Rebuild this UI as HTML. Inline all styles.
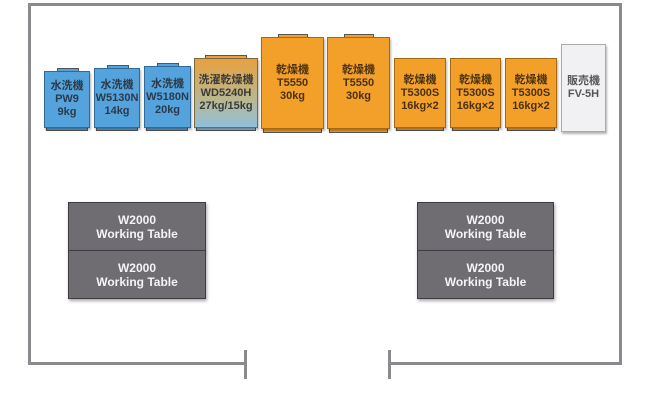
<!DOCTYPE html>
<html><head><meta charset="utf-8"><style>
body{margin:0;width:650px;height:411px;background:#fff;position:relative;overflow:hidden;font-family:"Liberation Sans","Noto Sans CJK JP",sans-serif}
.l{position:absolute;background:#8b8a8f}
.m{position:absolute;box-sizing:border-box;border:1px solid #555;display:flex;flex-direction:column;align-items:center;justify-content:center;font-weight:bold;font-size:11px;line-height:13px;color:#2b3a4a;text-align:center;box-shadow:1px 2px 2px rgba(0,0,0,.3)}
.b{background:#55a3dc;border-color:#2f6a99}
.o{background:#f3a02a;border-color:#a86a10;color:#4a3010}
.g{background:linear-gradient(#e8a040,#b8b890 60%,#8fc0dc);border-color:#7a6a40;color:#3a3a3a}
.w{background:#f1f1f3;border-color:#aaa;color:#555}
.cap{position:absolute;box-sizing:border-box;border:1px solid #555;height:5px}
.t{position:absolute;box-sizing:border-box;background:#6f6c72;border:1px solid #3e3c42;color:#f4f4f4;font-weight:bold;font-size:12px;line-height:14px;display:flex;flex-direction:column;align-items:center;justify-content:center;text-align:center;box-shadow:1px 2px 3px rgba(0,0,0,.35)}
</style></head><body>
<div class="l" style="left:28px;top:3px;width:3px;height:362px"></div>
<div class="l" style="left:28px;top:3px;width:594px;height:3px"></div>
<div class="l" style="left:619px;top:3px;width:3px;height:362px"></div>
<div class="l" style="left:28px;top:362px;width:218px;height:3px"></div>
<div class="l" style="left:388px;top:362px;width:234px;height:3px"></div>
<div class="l" style="left:244px;top:350px;width:3px;height:29px"></div>
<div class="l" style="left:388px;top:350px;width:3px;height:29px"></div>

<div class="cap b" style="left:57px;top:68px;width:22px"></div>
<div class="cap b" style="left:107px;top:65px;width:22px"></div>
<div class="cap b" style="left:157px;top:63px;width:22px"></div>
<div class="cap g" style="left:205px;top:55px;width:42px;background:#e8a040"></div>
<div class="cap o" style="left:278px;top:34px;width:30px"></div>
<div class="cap o" style="left:344px;top:34px;width:30px"></div>
<div class="cap b" style="left:46px;top:126px;width:42px"></div>
<div class="cap b" style="left:96px;top:126px;width:42px"></div>
<div class="cap b" style="left:146px;top:126px;width:42px"></div>
<div class="cap g" style="left:196px;top:126px;width:60px;background:#8fc0dc"></div>
<div class="cap o" style="left:263px;top:128px;width:59px"></div>
<div class="cap o" style="left:329px;top:128px;width:59px"></div>
<div class="cap o" style="left:396px;top:126px;width:48px"></div>
<div class="cap o" style="left:452px;top:126px;width:47px"></div>
<div class="cap o" style="left:507px;top:126px;width:48px"></div>

<div class="m b" style="left:44px;top:71px;width:46px;height:57px">水洗機<br>PW9<br>9kg</div>
<div class="m b" style="left:94px;top:68px;width:46px;height:60px">水洗機<br>W5130N<br>14kg</div>
<div class="m b" style="left:144px;top:66px;width:47px;height:62px">水洗機<br>W5180N<br>20kg</div>
<div class="m g" style="left:194px;top:58px;width:64px;height:70px">洗濯乾燥機<br>WD5240H<br>27kg/15kg</div>
<div class="m o" style="left:261px;top:37px;width:63px;height:92px">乾燥機<br>T5550<br>30kg</div>
<div class="m o" style="left:327px;top:37px;width:63px;height:92px">乾燥機<br>T5550<br>30kg</div>
<div class="m o" style="left:394px;top:58px;width:52px;height:70px">乾燥機<br>T5300S<br>16kg×2</div>
<div class="m o" style="left:450px;top:58px;width:51px;height:70px">乾燥機<br>T5300S<br>16kg×2</div>
<div class="m o" style="left:505px;top:58px;width:52px;height:70px">乾燥機<br>T5300S<br>16kg×2</div>
<div class="m w" style="left:561px;top:44px;width:45px;height:88px">販売機<br>FV-5H</div>

<div class="t" style="left:68px;top:202px;width:138px;height:49px">W2000<br>Working Table</div>
<div class="t" style="left:68px;top:250px;width:138px;height:49px">W2000<br>Working Table</div>
<div class="t" style="left:417px;top:202px;width:137px;height:49px">W2000<br>Working Table</div>
<div class="t" style="left:417px;top:250px;width:137px;height:49px">W2000<br>Working Table</div>
</body></html>
